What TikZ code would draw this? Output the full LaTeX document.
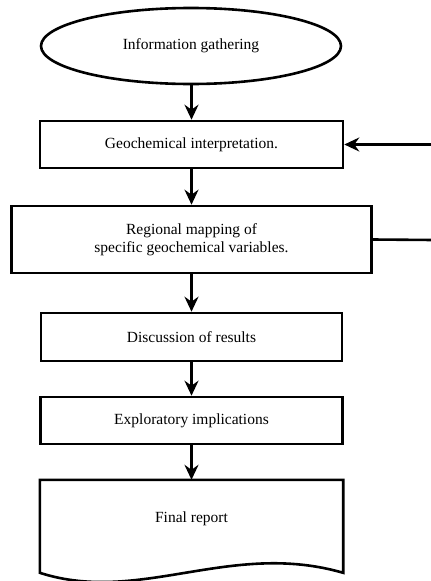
\documentclass[tikz,border=0pt]{standalone}
\usepackage{fontspec}
\setmainfont{Liberation Serif}
\usetikzlibrary{arrows.meta,shapes.geometric}
\begin{document}
\begin{tikzpicture}[x=1pt,y=-1pt,
  line/.style={line width=2.6pt,line join=miter},
  arr/.style={line width=2.6pt,-{Stealth[length=15pt,width=14pt,inset=5pt]}},
  procbox/.style={draw,line width=2.6pt,rectangle,align=center,inner sep=0pt,
    font=\fontsize{15.5}{18}\selectfont},
  txt/.style={font=\fontsize{15.5}{18}\selectfont,align=center,inner sep=0pt}]
\useasboundingbox[fill=white] (0,0) rectangle (431,581);
\node[draw,line width=2.6pt,ellipse,minimum width=300pt,minimum height=76pt,inner sep=0pt,
  font=\fontsize{15.5}{18}\selectfont] (ell) at (191,46) {Information gathering};
\node[procbox,minimum width=303pt,minimum height=47pt] (b1) at (191.5,144.5) {Geochemical interpretation.};
\node[procbox,minimum width=360pt,minimum height=67pt] (b2) at (191.5,239.5)
  {\raisebox{3pt}{\parbox{300pt}{\centering Regional mapping of\\specific geochemical variables.}}};
\node[procbox,minimum width=301pt,minimum height=48pt] (b3) at (191.5,337) {Discussion of results};
\node[procbox,minimum width=302pt,minimum height=47pt] (b4) at (191.5,420.5) {Exploratory implications};
\node[txt,minimum width=303pt,minimum height=78pt] (doc) at (191.5,519) {Final report};
\draw[line] (doc.north west) -- (doc.north east) -- ([yshift=-93pt]doc.north east)
  .. controls (230,540) and (140,605) .. ([yshift=-93pt]doc.north west) -- cycle;
\coordinate (r1) at (433,144.5);
\coordinate (r2) at (433,240);
\draw[arr] (ell.south -| b1.north) -- (b1.north);
\draw[arr] (b1.south) -- (b2.north);
\draw[arr] (b2.south) -- (b3.north);
\draw[arr] (b3.south) -- (b4.north);
\draw[arr] (b4.south) -- (doc.north);
\draw[arr] (r1) -- (b1.east);
\draw[line] (b2.east) -- (r2);
\end{tikzpicture}
\end{document}
